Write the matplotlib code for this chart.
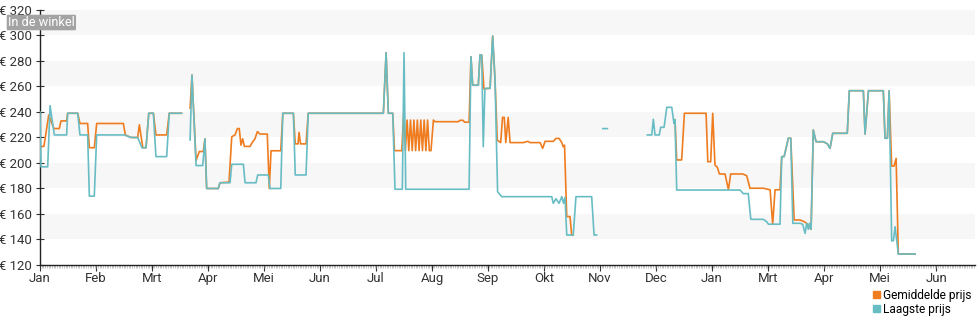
import numpy as np
import matplotlib
matplotlib.use('Agg')
import matplotlib.pyplot as plt
from matplotlib.patches import Patch

plt.rcParams['font.family'] = ['Roboto', 'DejaVu Sans']

NA = float('nan')

# month labels, spaced evenly along the day axis
maanden = ['Jan', 'Feb', 'Mrt', 'Apr', 'Mei', 'Jun', 'Jul', 'Aug', 'Sep', 'Okt',
           'Nov', 'Dec', 'Jan', 'Mrt', 'Apr', 'Mei', 'Jun']
maand_stap = 32.8
prijs_ticks = list(range(120, 321, 20))
grijze_banden = [(140, 160), (180, 200), (220, 240), (260, 280), (300, 320)]

# (day, price) points, NA = no data
laagste = [
    (0.0, 240), (0.6, 197), (4.5, 197), (5.9, 245), (8.4, 222), (15.6, 222), (16.2, 239),
    (22.1, 239), (23.4, 222), (27.9, 222), (28.9, 174), (31.8, 174), (33.2, 222), (49.4, 222),
    (53.3, 220), (57.2, 220), (59.7, 212), (62.1, 212), (63.7, 239), (66.4, 239), (67.9, 205),
    (74.2, 205), (75.7, 239), (82.9, 239),
    (85.0, NA),
    (87.9, 218), (89.0, 269), (91.4, 198), (95.3, 198), (96.6, 219), (97.6, 180), (104.4, 180),
    (105.4, 184.5), (111.3, 184.5), (112.3, 199), (119.1, 199), (120.1, 184.5), (126.5, 184.5),
    (127.5, 190.6), (133.7, 190.6), (134.7, 180), (141.0, 180), (142.2, 239), (148.4, 239),
    (149.5, 190.6), (155.8, 190.6), (157.1, 239), (201.1, 239), (202.7, 286.5), (204.0, 239),
    (206.6, 239), (207.9, 179.4), (212.2, 179.4), (213.2, 286.5), (214.2, 179.4), (251.3, 179.4),
    (252.4, 283.4), (253.4, 261), (256.7, 261), (257.7, 284.7), (258.7, 284.7), (259.6, 212.8),
    (260.6, 258.6), (263.6, 258.6), (265.1, 299.6), (266.5, 265), (268.0, 177.5), (270.4, 173.6),
    (299.7, 173.6), (300.6, 168.4), (302.2, 172), (304.0, 168.4), (305.6, 173.6), (306.6, 168.4),
    (307.5, 173), (308.5, 143.5), (312.3, 143.5), (313.9, 173.6), (323.1, 173.6), (324.5, 143.5),
    (326.0, 143.5),
    (328.0, NA),
    (329.6, 227), (332.3, 227),
    (340.0, NA),
    (355.7, 222), (358.3, 222), (359.2, 234.3), (360.2, 222), (362.7, 222), (363.5, 228),
    (365.5, 228), (367.1, 243.7), (370.0, 243.7), (371.3, 231), (371.9, 234), (372.9, 178.8),
    (410.0, 178.8), (411.9, 176), (414.8, 176), (416.3, 155.8), (423.6, 155.8), (425.6, 154),
    (426.6, 152), (433.4, 152), (434.4, 205), (435.8, 205), (438.3, 219.4), (439.7, 219.4),
    (440.9, 152.7), (445.1, 152.7), (446.7, 152), (448.1, 144.8), (449.0, 152.7), (450.0, 148),
    (450.6, 152.7), (451.6, 148), (452.9, 225.9), (454.5, 216.7), (458.8, 216.7), (461.2, 215),
    (462.7, 211.5), (464.3, 223.3), (472.8, 223.3), (474.0, 256.7), (482.2, 256.7), (483.2, 222.7),
    (485.2, 256.7), (493.9, 256.7), (494.9, 219.4), (496.3, 219.4), (497.3, 256.7), (498.8, 139),
    (499.8, 139), (500.8, 150), (502.7, 128.6), (512.5, 128.6),
]

gemiddeld = [
    (0.0, 213), (2.3, 213), (5.1, 237.6), (6.7, 232), (8.2, 227), (11.3, 227), (12.3, 233),
    (15.6, 233), (16.2, 239), (22.1, 239), (23.4, 231), (27.9, 231), (28.9, 212), (31.8, 212),
    (33.2, 231), (48.8, 231), (50.0, 222), (53.3, 220), (57.2, 220), (58.2, 230), (60.2, 212),
    (62.1, 212), (63.7, 239), (66.4, 239), (67.9, 222), (74.2, 222), (75.7, 239), (82.9, 239),
    (85.0, NA),
    (87.9, 243), (89.0, 269), (91.4, 202), (93.3, 209), (95.6, 209), (96.6, 219), (97.6, 180),
    (104.4, 180), (105.4, 184.5), (110.7, 185), (112.3, 220.6), (114.2, 222), (115.6, 227),
    (116.7, 227), (117.7, 214), (118.7, 219), (119.7, 213), (123.0, 213), (124.6, 216.7),
    (125.9, 219), (127.3, 224.6), (128.9, 222.7), (133.1, 222.7), (134.3, 180), (135.3, 209.6),
    (141.0, 209.6), (142.2, 239), (148.4, 239), (149.5, 215), (151.1, 215), (151.7, 224),
    (152.6, 215), (155.8, 215), (157.1, 239), (201.1, 239), (202.7, 286.5), (204.0, 239),
    (206.6, 239), (207.6, 209.7), (211.9, 209.7), (213.0, 239), (214, 209.7), (215, 233.7),
    (216, 209.7), (217, 233.7), (218, 209.7), (219, 233.7), (220, 209.7), (221, 233.7),
    (222, 209.7), (223, 233.7), (224, 209.7), (225, 233.7), (226, 209.7), (227, 233.7),
    (228, 209.7), (229, 209.7), (230.4, 233.7), (231.3, 232.4), (245.0, 232.4), (246.0, 233.5),
    (247.7, 233.5), (248.7, 232), (251.3, 232), (252.4, 283.4), (253.4, 261), (256.7, 261),
    (257.7, 284.7), (258.7, 284.7), (260.0, 258), (263.6, 258.6), (265.1, 299.6), (266.5, 265),
    (267.8, 218), (269.8, 216), (270.9, 235.8), (271.9, 235.8), (272.8, 216), (274.2, 235.8),
    (275.3, 216), (283.1, 216), (285.6, 217), (287.0, 216), (292.9, 216), (294.4, 211.5),
    (295.8, 217), (300.6, 217), (302.2, 219.3), (304.0, 219.3), (305.6, 216), (306.4, 212.8),
    (307.2, 214), (308.5, 158), (310.4, 158), (311.4, 143.5), (312.3, 143.5),
    (340.0, NA),
    (371.9, 234), (372.9, 202.4), (375.8, 202.4), (377.4, 239), (390.1, 239), (391.1, 201),
    (392.8, 201), (394.0, 239), (395.3, 198.4), (396.7, 196.6), (397.9, 191.4), (401.2, 191.4),
    (403.2, 179), (404.5, 191.4), (411.6, 191.4), (413.9, 190), (415.8, 180.2), (423.6, 180.2),
    (427.6, 179), (429.1, 152), (430.5, 179), (433.4, 179), (434.4, 205), (435.8, 205),
    (438.3, 219.4), (439.7, 219.4), (441.7, 155.3), (445.1, 155.3), (447.5, 154), (449.0, 152.7),
    (451.6, 148), (452.9, 225.9), (454.5, 216.7), (458.8, 216.7), (461.2, 215), (462.7, 211.5),
    (464.3, 223.3), (472.8, 223.3), (474.0, 256.7), (482.2, 256.7), (483.2, 222.7), (485.2, 256.7),
    (493.9, 256.7), (494.9, 219.4), (496.3, 219.4), (497.3, 256.7), (498.8, 197.6), (500.2, 197.6),
    (501.4, 203.6), (502.7, 128.6), (512.5, 128.6),
]

oranje = '#ef7c1f'
blauw = '#68bdc4'

fig = plt.figure(figsize=(9.8, 3.25), dpi=100)
ax = fig.add_axes([40 / 980, 60 / 325, 935 / 980, 255 / 325])

for lo, hi in grijze_banden:
    ax.axhspan(lo, hi, color='#f7f7f7', lw=0, zorder=0)

x, y = zip(*gemiddeld)
ax.plot(x, y, color=oranje, lw=1.2, zorder=2)
x, y = zip(*laagste)
ax.plot(x, y, color=blauw, lw=1.2, zorder=3)

ax.set_xlim(0, 547.6)
ax.set_ylim(120, 320)

ax.set_xticks([i * maand_stap for i in range(len(maanden))])
ax.set_xticklabels(maanden)
ax.set_xticks(np.arange(0, 548, 1.0), minor=True)
ax.tick_params(axis='x', which='major', length=4, width=0.8, color='#333333',
               labelsize=9.5, labelcolor='#333333', pad=1)
ax.tick_params(axis='x', which='minor', length=2, width=0.4, color='#999999')

ax.set_yticks(prijs_ticks)
ax.set_yticklabels(['€ %d' % p for p in prijs_ticks])
ax.tick_params(axis='y', direction='inout', length=6, width=0.8, color='#333333',
               labelsize=9.5, labelcolor='#333333', pad=2.5)

for s in ['top', 'right']:
    ax.spines[s].set_visible(False)
for s in ['left', 'bottom']:
    ax.spines[s].set_color('#222222')
    ax.spines[s].set_linewidth(1.0)

fig.text(8 / 980, 1 - 22.5 / 325, 'In de winkel', color='white', fontsize=9.2,
         ha='left', va='center',
         bbox=dict(boxstyle='round,pad=0.1', fc='#a3a3a3', ec='none'))

fig.legend(handles=[Patch(color=oranje, label='Gemiddelde prijs'),
                    Patch(color=blauw, label='Laagste prijs')],
           loc='lower right', bbox_to_anchor=(1.0, 0.0), frameon=False,
           fontsize=8.6, handlelength=0.55, handleheight=0.55, handletextpad=0.25,
           labelspacing=0.1, borderaxespad=0.35)

fig.savefig('out.png', dpi=100)
